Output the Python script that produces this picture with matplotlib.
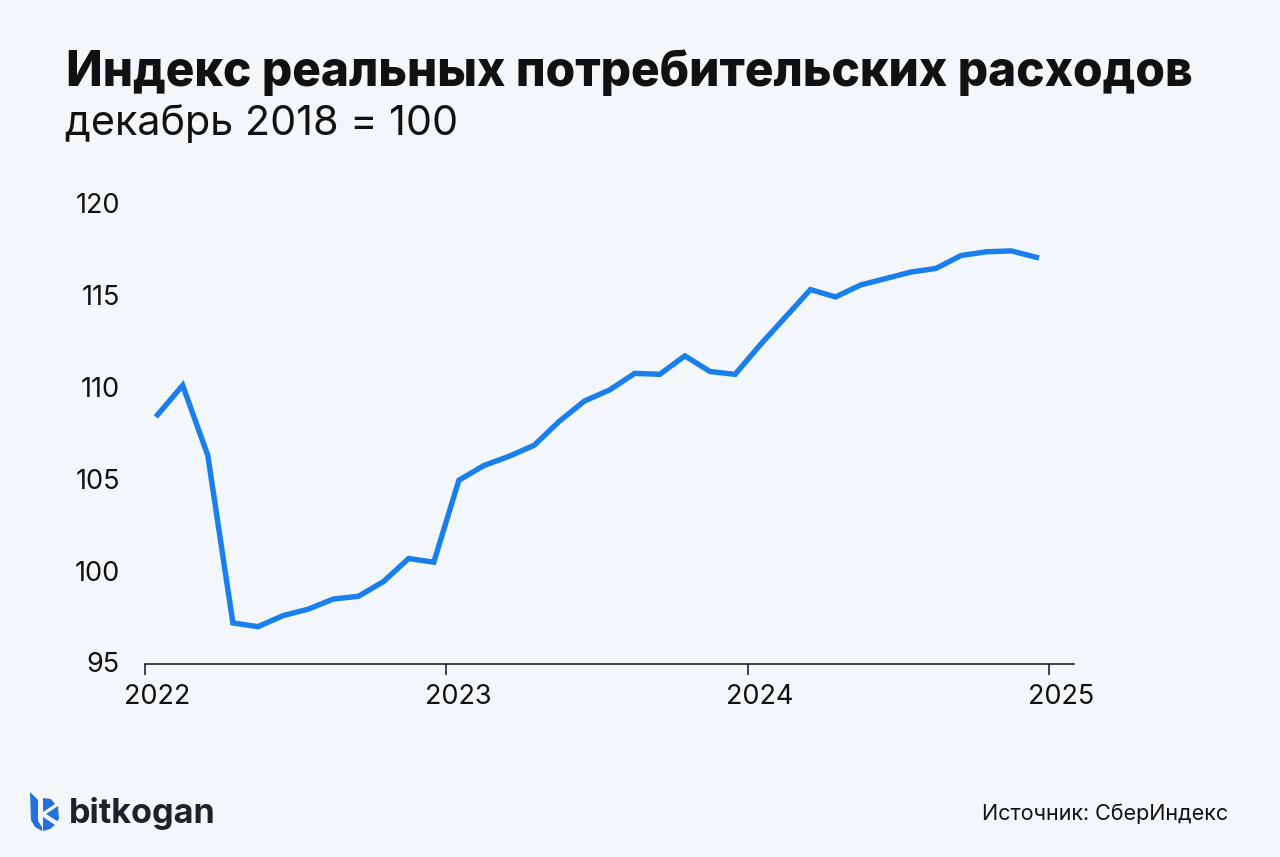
import matplotlib.pyplot as plt
from matplotlib.patches import Polygon
from matplotlib.transforms import ScaledTranslation

# Constants
BG = '#f3f7fa'
BLUE = '#1a7fed'
INK = '#111111'
W, H = 1280, 857

YEARS = [2022, 2023, 2024, 2025]
Y_TICKS = [95, 100, 105, 110, 115, 120]
VALUES_2022 = [108.5, 110.1, 106.3, 97.2, 97.0, 97.6, 97.95, 98.5, 98.65, 99.45, 100.7, 100.5]
VALUES_2023 = [104.95, 105.75, 106.25, 106.85, 108.15, 109.25, 109.85, 110.75, 110.7, 111.7, 110.85, 110.7]
VALUES_2024 = [112.3, 113.8, 115.3, 114.9, 115.55, 115.9, 116.25, 116.45, 117.15, 117.35, 117.4, 117.05]

TITLE = 'Индекс реальных потребительских расходов'
SUBTITLE = 'декабрь 2018 = 100'
SOURCE = 'Источник: СберИндекс'
BRAND = 'bitkogan'

plt.rcParams['font.family'] = ['Inter', 'DejaVu Sans']

fig = plt.figure(figsize=(W / 100, H / 100), dpi=100, facecolor=BG)
ax = fig.add_axes([145 / W, 1 - 663.5 / H, 929 / W, 460.5 / H], facecolor=BG)

# Monthly points sit in the middle of each month
values = VALUES_2022 + VALUES_2023 + VALUES_2024
months = [2022 + (i + 0.5) / 12 for i in range(len(values))]
ax.plot(months, values, color=BLUE, linewidth=3.9, solid_joinstyle='miter', clip_on=False)

ax.set_xlim(2022, 2025.083)
ax.set_ylim(95, 120)
for side in ['top', 'right', 'left']:
    ax.spines[side].set_visible(False)
ax.spines['bottom'].set_linewidth(1.1)
ax.spines['bottom'].set_color(INK)

ax.set_xticks(YEARS)
ax.set_xticklabels([str(y) for y in YEARS])
ax.set_yticks(Y_TICKS)
ax.tick_params(axis='x', length=8, width=1.1, color=INK, labelsize=19.5, labelcolor=INK, pad=7)
ax.tick_params(axis='y', length=0, labelsize=19.5, labelcolor=INK, pad=18)

# Year labels are shifted to the right of their ticks
shift = ScaledTranslation(12 / 100, 0, fig.dpi_scale_trans)
for label in ax.get_xticklabels():
    label.set_transform(label.get_transform() + shift)

# 95 sits a little higher than the axis line
ax.get_yticklabels()[0].set_transform(
    ax.get_yticklabels()[0].get_transform() + ScaledTranslation(0, 2 / 100, fig.dpi_scale_trans))

fig.text(66 / W, 1 - 73 / H, TITLE, fontsize=34.45, fontweight='heavy', color=INK, va='center', ha='left')
fig.text(65 / W, 1 - 124 / H, SUBTITLE, fontsize=29.7, color=INK, va='center', ha='left')
fig.text(1228 / W, 1 - 814 / H, SOURCE, fontsize=15.5, color=INK, va='center', ha='right')
fig.text(69 / W, 1 - 814 / H, BRAND, fontsize=24.6, fontweight='bold', color='#1f2226', va='center', ha='left')

# Logo mark
logo = fig.add_axes([0, 0, 1, 1], facecolor='none')
logo.set_xlim(0, W)
logo.set_ylim(H, 0)
logo.axis('off')
logo.add_patch(Polygon([(30, 792), (38, 800), (38, 821), (42, 827), (42, 831), (35, 827), (31, 820)],
                       closed=True, color='#2470dc', linewidth=0))
logo.add_patch(Polygon([(43, 798), (51, 799), (55, 804), (43, 812)], closed=True, color='#2470dc', linewidth=0))
logo.add_patch(Polygon([(46, 814), (58, 806), (59, 819), (57, 821)], closed=True, color='#2470dc', linewidth=0))
logo.add_patch(Polygon([(43, 817), (55, 825), (50, 829), (43, 831)], closed=True, color='#2470dc', linewidth=0))

fig.savefig('out.png', dpi=100, facecolor=BG)
